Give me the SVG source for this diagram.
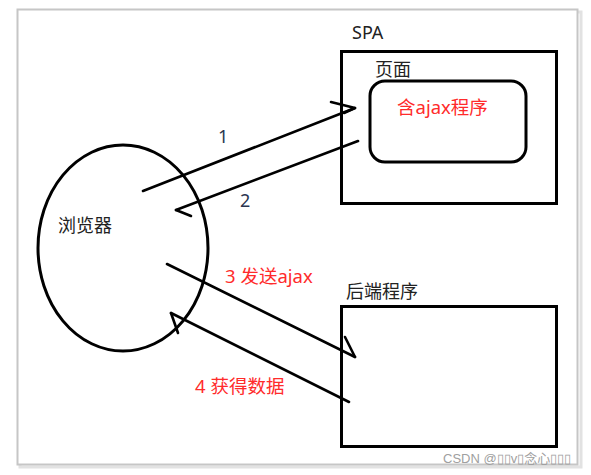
<svg xmlns="http://www.w3.org/2000/svg" width="591" height="475" viewBox="0 0 591 475">
<style>
.t{font-family:"Noto Sans","Noto Sans CJK SC",sans-serif;font-size:18px;fill:#222}
.r{font-family:"Noto Sans","Noto Sans CJK SC",sans-serif;font-size:18.5px;fill:#ff2b2b}
.shape{fill:none;stroke:#000;stroke-width:3}
.c{fill:none;stroke:#000;stroke-width:2.6;stroke-linecap:round;stroke-linejoin:round}
.wm{font-family:"Liberation Sans","Noto Sans CJK SC",sans-serif;font-size:13px;fill:#a0a0a0}
</style>
<rect x="0" y="0" width="591" height="475" fill="#fff"/>
<g id="frame">
<rect x="20" y="12" width="561" height="455" fill="none" stroke="#e2e2e2" stroke-width="3"/>
<rect x="17.5" y="9.5" width="560" height="455" fill="#fff" stroke="#c6c6c6" stroke-width="2"/>
</g>
<g id="browser">
<ellipse cx="123" cy="248" rx="85" ry="103" class="shape" stroke-width="2.6"/>
<text class="t" x="58" y="232" font-size="19">浏览器</text>
</g>
<g id="spa">
<text class="t" x="352" y="39">SPA</text>
<rect x="341.5" y="51.5" width="215" height="152" class="shape"/>
</g>
<g id="page">
<text class="t" x="375" y="76">页面</text>
<rect x="370" y="81" width="156" height="81" rx="15" class="shape"/>
<text class="r" x="397" y="114">含ajax程序</text>
</g>
<g id="backend">
<text class="t" x="346" y="298" font-size="19">后端程序</text>
<rect x="341.5" y="306.5" width="215" height="140" class="shape"/>
</g>
<g id="connectors">
<line x1="143" y1="191" x2="355" y2="108" class="c"/>
<polyline points="331,102 355,108 344,113" class="c"/>
<line x1="358" y1="141" x2="176" y2="210" class="c"/>
<polyline points="176,210 191,216" class="c"/>
<line x1="167" y1="264" x2="355" y2="357" class="c"/>
<polyline points="345,337 355,357" class="c"/>
<line x1="349" y1="402" x2="171" y2="313" class="c"/>
<polyline points="171,313 178,333" class="c"/>
<text class="t" x="218" y="143" fill="#2a3550" style="fill:#2a3550">1</text>
<text class="t" x="240" y="207" style="fill:#2a3550">2</text>
<text class="r" x="225" y="283">3 发送ajax</text>
<text class="r" x="195" y="393">4 获得数据</text>
</g>
<text class="wm" x="443" y="463">CSDN @▯▯v▯念心▯▯▯</text>
</svg>
